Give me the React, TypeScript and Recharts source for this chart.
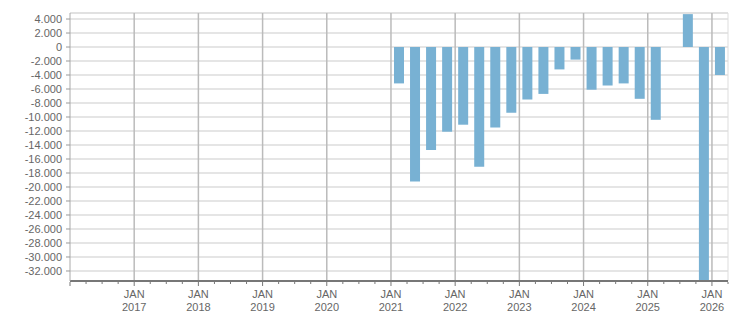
import { Bar, BarChart, CartesianGrid, ReferenceLine, XAxis, YAxis } from "recharts";

// quarterly balance, Q1 2016 .. Q1 2026 (empty quarters are null)
const years = [2016, 2017, 2018, 2019, 2020, 2021, 2022, 2023, 2024, 2025, 2026];
const quarterNames = ["Q1", "Q2", "Q3", "Q4"];

const balance2016to2020: (number | null)[] = Array(20).fill(null);
const balance2021 = [-5200, -19200, -14700, -12100];
const balance2022 = [-11100, -17100, -11500, -9400];
const balance2023 = [-7500, -6700, -3200, -1800];
const balance2024 = [-6100, -5500, -5200, -7400];
const balance2025 = [-10400, null, 4700, -36000];
const balance2026 = [-4000];

const yTicks = [
  4000, 2000, 0, -2000, -4000, -6000, -8000, -10000, -12000, -14000, -16000, -18000,
  -20000, -22000, -24000, -26000, -28000, -30000, -32000,
];
const yMin = -33430;
const yMax = 4860;

const values = [
  ...balance2016to2020,
  ...balance2021,
  ...balance2022,
  ...balance2023,
  ...balance2024,
  ...balance2025,
  ...balance2026,
];

const data = values.map((v, i) => ({
  x: i + 0.5,
  quarter: `${quarterNames[i % 4]} ${years[Math.floor(i / 4)]}`,
  value: v,
}));

const nQuarters = values.length;
const quarterTicks = Array.from({ length: nQuarters + 1 }, (_, i) => i);
const janLines = quarterTicks.filter((i) => i % 4 === 0 && i > 0);

const fmt = (n: number) => n.toLocaleString("de-DE");
const font = "Tahoma, 'Liberation Sans', sans-serif";

const QuarterTick = ({ x, y, payload }: any) => {
  const i = payload.value as number;
  const isJan = i % 4 === 0;
  return (
    <g>
      <line x1={x} x2={x} y1={y + 1} y2={y + (isJan ? 5 : 3)} stroke="#777" strokeWidth={1} />
      {isJan && i > 0 && (
        <text x={x} textAnchor="middle" fill="#666" fontSize={11} fontFamily={font}>
          <tspan x={x} y={y + 17}>JAN</tspan>
          <tspan x={x} y={y + 30}>{years[i / 4]}</tspan>
        </text>
      )}
    </g>
  );
};

export default function App() {
  return (
    <div style={{ position: "absolute", left: 0, top: 0, width: 751, height: 313, background: "#fff" }}>
      <BarChart width={751} height={313} data={data} margin={{ top: 13, right: 23, bottom: 0, left: 0 }}>
        <CartesianGrid vertical={false} stroke="#dddddd" strokeWidth={1.5} />
        <XAxis
          type="number"
          dataKey="x"
          domain={[0, nQuarters]}
          ticks={quarterTicks}
          interval={0}
          allowDataOverflow
          height={32}
          tickSize={0}
          tickMargin={0}
          tickLine={false}
          tick={<QuarterTick />}
          axisLine={{ stroke: "#777", strokeWidth: 2 }}
        />
        <YAxis
          width={70}
          domain={[yMin, yMax]}
          ticks={yTicks}
          interval={0}
          allowDataOverflow
          tickFormatter={fmt}
          tickSize={4}
          tickMargin={4}
          tick={{ fontSize: 11, fill: "#666", fontFamily: font }}
          tickLine={{ stroke: "#999" }}
          axisLine={{ stroke: "#aaa" }}
        />
        <ReferenceLine y={yMax} stroke="#dddddd" />
        <ReferenceLine x={nQuarters} stroke="#dddddd" />
        {janLines.map((i) => (
          <ReferenceLine key={i} x={i} stroke="#bbbbbb" strokeWidth={1.5} />
        ))}
        <Bar dataKey="value" fill="#78b1d3" barSize={10} isAnimationActive={false} />
      </BarChart>
    </div>
  );
}
